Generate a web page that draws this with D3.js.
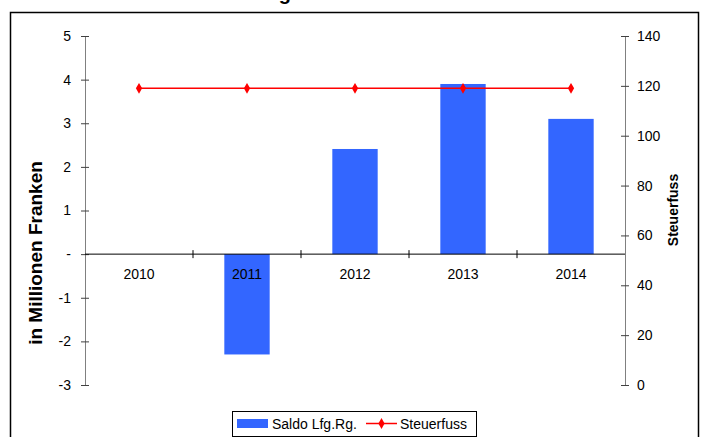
<!DOCTYPE html>
<html>
<head>
<meta charset="utf-8">
<script src="https://cdn.jsdelivr.net/npm/d3@7"></script>
<style>
  body { margin: 0; background: #fff; }
  text { font-family: "Liberation Sans", Arial, sans-serif; }
</style>
</head>
<body>
<script>
// data
var years = ["2010", "2011", "2012", "2013", "2014"];
var saldo = [0, -2.3, 2.41, 3.9, 3.1];
var steuerfuss = [119, 119, 119, 119, 119];
var leftTicks = [-3, -2, -1, 0, 1, 2, 3, 4, 5];
var rightTicks = [0, 20, 40, 60, 80, 100, 120, 140];

var w = 707, h = 437;
var plot = { left: 85, right: 625, top: 36, bottom: 385 };

var svg = d3.select("body").append("svg")
  .attr("width", w)
  .attr("height", h);

// outer frame (bottom edge is cut off in the picture)
svg.append("rect")
  .attr("x", 10.5).attr("y", 12.5)
  .attr("width", 688).attr("height", 440)
  .style("fill", "none")
  .style("stroke", "black")
  .style("stroke-width", 1.5);

// title, only its descender peeks out at the top
svg.append("text")
  .attr("x", 291).attr("y", 0)
  .style("text-anchor", "end")
  .style("font-size", "20px")
  .style("font-weight", "bold")
  .text("Laufende Rechnung");

var x = d3.scaleBand().domain(years).range([plot.left, plot.right]);
var y = d3.scaleLinear().domain([-3, 5]).range([plot.bottom, plot.top]);
var y2 = d3.scaleLinear().domain([0, 140]).range([plot.bottom, plot.top]);

var barW = x.bandwidth() * 0.42;

// bars
svg.selectAll("rect.bar")
  .data(years)
  .enter()
  .append("rect")
  .attr("class", "bar")
  .attr("x", function(d) { return x(d) + (x.bandwidth() - barW) / 2; })
  .attr("y", function(d, i) { return y(Math.max(0, saldo[i])); })
  .attr("width", barW)
  .attr("height", function(d, i) { return Math.abs(y(saldo[i]) - y(0)); })
  .style("fill", "#3366FF");

// left axis
var leftAxis = d3.axisLeft(y)
  .tickValues(leftTicks)
  .tickSizeInner(4)
  .tickSizeOuter(0)
  .tickPadding(10)
  .tickFormat(function(d) { return d === 0 ? "-" : d; });

var gl = svg.append("g")
  .attr("transform", "translate(" + plot.left + ",0)")
  .call(leftAxis);
gl.select(".domain").style("stroke", "#808080");
gl.selectAll(".tick line").attr("x1", 4).style("stroke", "#404040");
gl.selectAll(".tick text").style("font-size", "14px").style("fill", "#000");

// right axis
var rightAxis = d3.axisRight(y2)
  .tickValues(rightTicks)
  .tickSizeInner(4)
  .tickSizeOuter(0)
  .tickPadding(8);

var gr = svg.append("g")
  .attr("transform", "translate(" + plot.right + ",0)")
  .call(rightAxis);
gr.select(".domain").style("stroke", "#808080");
gr.selectAll(".tick line").attr("x1", -4).style("stroke", "#404040");
gr.selectAll(".tick text").style("font-size", "14px").style("fill", "#000");

// category axis on the zero line
var catAxis = d3.axisBottom(x)
  .tickSize(0)
  .tickPadding(15);

var gc = svg.append("g")
  .attr("transform", "translate(0," + y(0) + ")")
  .call(catAxis);
gc.select(".domain").attr("d", "M" + plot.left + ",0H" + plot.right).style("stroke", "#000");
gc.selectAll(".tick text").style("font-size", "14px").style("fill", "#000");

// separators between categories
svg.selectAll("line.sep")
  .data(years.slice(1))
  .enter()
  .append("line")
  .attr("class", "sep")
  .attr("x1", function(d) { return x(d); })
  .attr("x2", function(d) { return x(d); })
  .attr("y1", y(0) - 4)
  .attr("y2", y(0) + 4)
  .style("stroke", "#000");

// steuerfuss line
var line = d3.line()
  .x(function(d, i) { return x(years[i]) + x.bandwidth() / 2; })
  .y(function(d) { return y2(d); });

svg.append("path")
  .datum(steuerfuss)
  .attr("d", line)
  .style("fill", "none")
  .style("stroke", "#FF0000")
  .style("stroke-width", 1.5);

var diamond = d3.symbol().type(d3.symbolDiamond).size(34);

svg.selectAll("path.marker")
  .data(steuerfuss)
  .enter()
  .append("path")
  .attr("class", "marker")
  .attr("d", diamond)
  .attr("transform", function(d, i) {
    return "translate(" + (x(years[i]) + x.bandwidth() / 2) + "," + y2(d) + ")";
  })
  .style("fill", "#FF0000");

// axis titles
svg.append("text")
  .attr("transform", "translate(42," + 253 + ") rotate(-90)")
  .style("text-anchor", "middle")
  .style("font-size", "19px")
  .style("font-weight", "bold")
  .text("in Millionen Franken");

svg.append("text")
  .attr("transform", "translate(678," + 210 + ") rotate(-90)")
  .style("text-anchor", "middle")
  .style("font-size", "14px")
  .style("font-weight", "bold")
  .text("Steuerfuss");

// legend
var legend = svg.append("g");

legend.append("rect")
  .attr("x", 232.5).attr("y", 411.5)
  .attr("width", 244).attr("height", 25)
  .style("fill", "#fff")
  .style("stroke", "#000")
  .style("stroke-width", 1);

legend.append("rect")
  .attr("x", 237).attr("y", 419)
  .attr("width", 31).attr("height", 9)
  .style("fill", "#3366FF");

legend.append("text")
  .attr("x", 272).attr("y", 429)
  .style("font-size", "14px")
  .text("Saldo Lfg.Rg.");

legend.append("line")
  .attr("x1", 366).attr("x2", 397)
  .attr("y1", 423.5).attr("y2", 423.5)
  .style("stroke", "#FF0000")
  .style("stroke-width", 1.5);

legend.append("path")
  .attr("d", diamond)
  .attr("transform", "translate(381.5,423.5)")
  .style("fill", "#FF0000");

legend.append("text")
  .attr("x", 400).attr("y", 429)
  .style("font-size", "14px")
  .text("Steuerfuss");
</script>
</body>
</html>
